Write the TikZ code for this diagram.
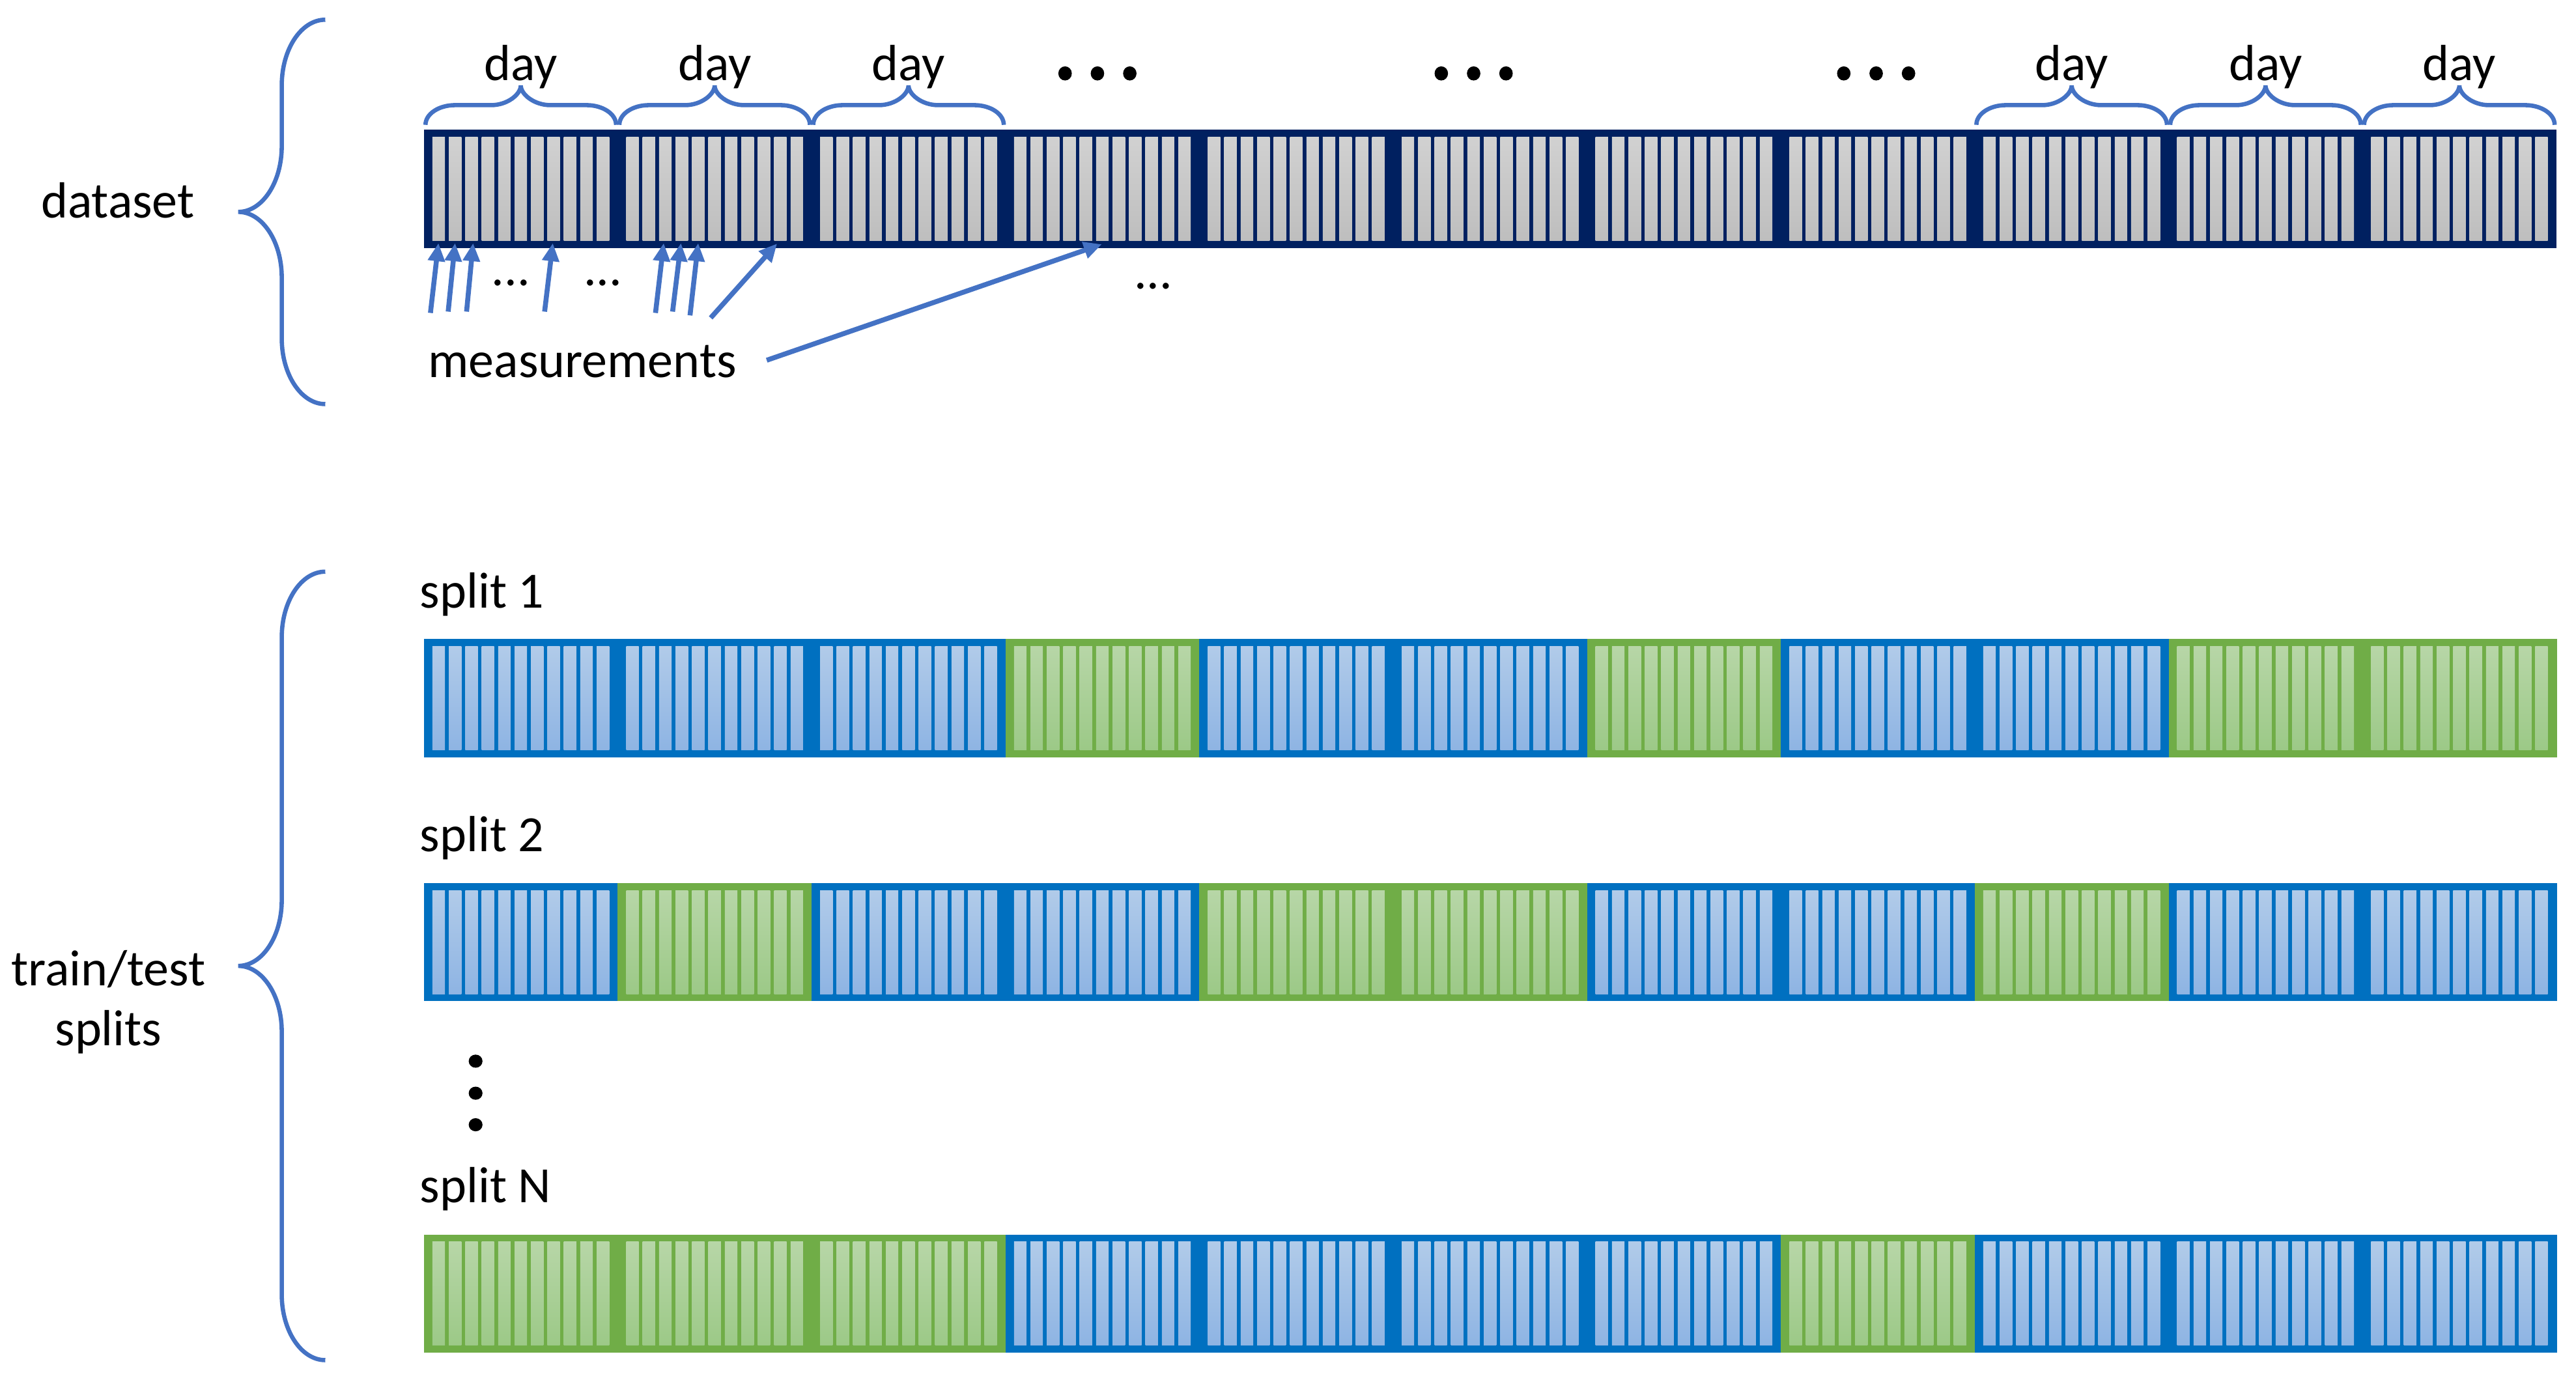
\documentclass[tikz,border=0pt]{standalone}
\usepackage{fontspec}
\setmainfont{Carlito}
\usetikzlibrary{arrows.meta}
\definecolor{navybar}{RGB}{0,32,96}
\definecolor{brdB}{RGB}{0,112,192}
\definecolor{brdG}{RGB}{112,173,71}
\definecolor{sTB}{RGB}{177,203,233}
\definecolor{sBB}{RGB}{142,180,227}
\definecolor{sTG}{RGB}{183,214,167}
\definecolor{sBG}{RGB}{156,201,135}
\definecolor{sTgray}{RGB}{209,209,209}
\definecolor{sBgray}{RGB}{190,190,190}
\definecolor{accent}{RGB}{68,114,196}
\tikzset{
  bracestyle/.style={draw=accent, line width=2.6mm, line cap=butt},
  measarrow/.style={draw=accent, line width=3mm, -{Triangle[length=11mm,width=10mm]}},
  lbl/.style={font=\fontsize{88}{106}\selectfont, inner sep=0pt},
  dotmark/.style={fill=black},
}
% stripes of one block: #1 left x, #2 top y, #3 height, #4 top colour, #5 bottom colour
\newcommand\blockstripes[5]{%
  \foreach \s in {0,...,10} {%
    \shade[top color=#4, bottom color=#5] ({#1+5.2+\s*10},{#2+4.5}) rectangle ++(7.6,{#3-9});
  }%
}
% split row: #1 top y, #2 pattern
\newcommand\splitrow[2]{%
  \foreach \c [count=\i from 0] in {#2} {%
    \pgfmathsetmacro\xl{258+\i*118}%
    \fill[brd\c] (\xl,#1) rectangle ++(118.4,72);
  }%
  \foreach \c [count=\i from 0] in {#2} {%
    \pgfmathsetmacro\xl{258+\i*118}%
    \blockstripes{\xl}{#1}{72}{sT\c}{sB\c}%
  }%
}
% left brace: #1 end x, #2 tip x, #3 top y, #4 tip y, #5 bottom y
\newcommand\leftbrace[5]{%
  \pgfmathsetmacro\xv{(#1+#2)/2}%
  \pgfmathsetmacro\ha{#1-\xv}%
  \draw[bracestyle] (#1,#3) .. controls ({#1-0.552*\ha},#3) and (\xv,{#3+40-0.552*40}) .. (\xv,{#3+40})
    -- (\xv,{#4-40}) .. controls (\xv,{#4-40+0.552*40}) and ({#2+0.552*\ha},#4) .. (#2,#4)
    .. controls ({#2+0.552*\ha},#4) and (\xv,{#4+40-0.552*40}) .. (\xv,{#4+40})
    -- (\xv,{#5-40}) .. controls (\xv,{#5-40+0.552*40}) and ({#1-0.552*\ha},#5) .. (#1,#5);
}
% day brace over block #1
\newcommand\daybrace[1]{%
  \pgfmathsetmacro\xa{258+#1*118+1}%
  \pgfmathsetmacro\xb{258+(#1+1)*118-1}%
  \pgfmathsetmacro\xm{(\xa+\xb)/2}%
  \draw[bracestyle] (\xa,76) .. controls (\xa,{76-0.552*12}) and ({\xa+18-0.552*18},64) .. ({\xa+18},64)
    -- ({\xm-18},64) .. controls ({\xm-18+0.552*18},64) and (\xm,{64-0.552*12}) .. (\xm,52)
    .. controls (\xm,{64-0.552*12}) and ({\xm+18-0.552*18},64) .. ({\xm+18},64)
    -- ({\xb-18},64) .. controls ({\xb-18+0.552*18},64) and (\xb,{76-0.552*12}) .. (\xb,76);
  \node[lbl, anchor=base] (day#1) at (\xm,49) {day};
}
\begin{document}
\begin{tikzpicture}[x=1mm, y=-1mm]
\useasboundingbox (0,0) rectangle (1568,840);
\fill[white] (0,0) rectangle (1568,840);

% ---------- dataset bar ----------
\fill[navybar] (258,79) rectangle (1556,151);
\foreach \i in {0,...,10} {
  \pgfmathsetmacro\xl{258+\i*118}
  \blockstripes{\xl}{79}{72}{sTgray}{sBgray}
}
\foreach \b in {0,1,2,8,9,10} { \daybrace{\b} }

% dots above the bar
\foreach \cx [count=\g] in {668,897,1142} {
  \foreach \k in {-1,0,1} {
    \fill[dotmark] ({\cx+\k*19.7},44.7) ellipse [x radius=4.1, y radius=4.3];
  }
}

% labels
\node[lbl, anchor=base west] (dataset) at (25,132.7) {dataset};
\node[lbl, anchor=base west] (meas) at (260.6,229.6) {measurements};
\node[lbl, anchor=base] (ell1) at (311,174) {...};
\node[lbl, anchor=base] (ell2) at (367,174) {...};
\node[lbl, anchor=base] (ell3) at (702,176) {...};

% measurement arrows
\coordinate (t1) at (262,190.5);   \coordinate (h1) at (266.9,148);
\coordinate (t2) at (272.8,189.7); \coordinate (h2) at (277,148);
\coordinate (t3) at (284,189.7);   \coordinate (h3) at (288,148);
\coordinate (t4) at (331.5,189.7); \coordinate (h4) at (336.5,148);
\coordinate (t5) at (399,190.5);   \coordinate (h5) at (404,148);
\coordinate (t6) at (409.4,189.7); \coordinate (h6) at (414.5,148);
\coordinate (t7) at (420,192);     \coordinate (h7) at (425,148);
\coordinate (t8) at (432.6,193.5); \coordinate (h8) at (473,148.3);
\coordinate (tL) at (466.7,219.3); \coordinate (hL) at (670.7,148.7);
\foreach \n in {1,...,8,L} { \draw[measarrow] (t\n) -- (h\n); }

\leftbrace{198}{145}{12}{129}{246}

% ---------- splits ----------
\node[lbl, anchor=base west] (s1) at (255.6,370) {split 1};
\node[lbl, anchor=base west] (s2) at (255.6,518.5) {split 2};
\node[lbl, anchor=base west] (sN) at (255.6,732) {split N};

\splitrow{389}{B,B,B,G,B,B,G,B,B,G,G}
\splitrow{537.5}{B,G,B,B,G,G,B,B,G,B,B}
\splitrow{751.5}{G,G,G,B,B,B,B,G,B,B,B}

\foreach \yy in {646,665.5,684.7} {
  \fill[dotmark] (289.5,\yy) ellipse [x radius=4.2, y radius=4.0];
}

\node[lbl, anchor=base] (tt) at (66,600) {train/test};
\node[lbl, anchor=base] (spl) at (66,636.4) {splits};
\leftbrace{198}{145}{348}{588}{828}
\end{tikzpicture}
\end{document}
